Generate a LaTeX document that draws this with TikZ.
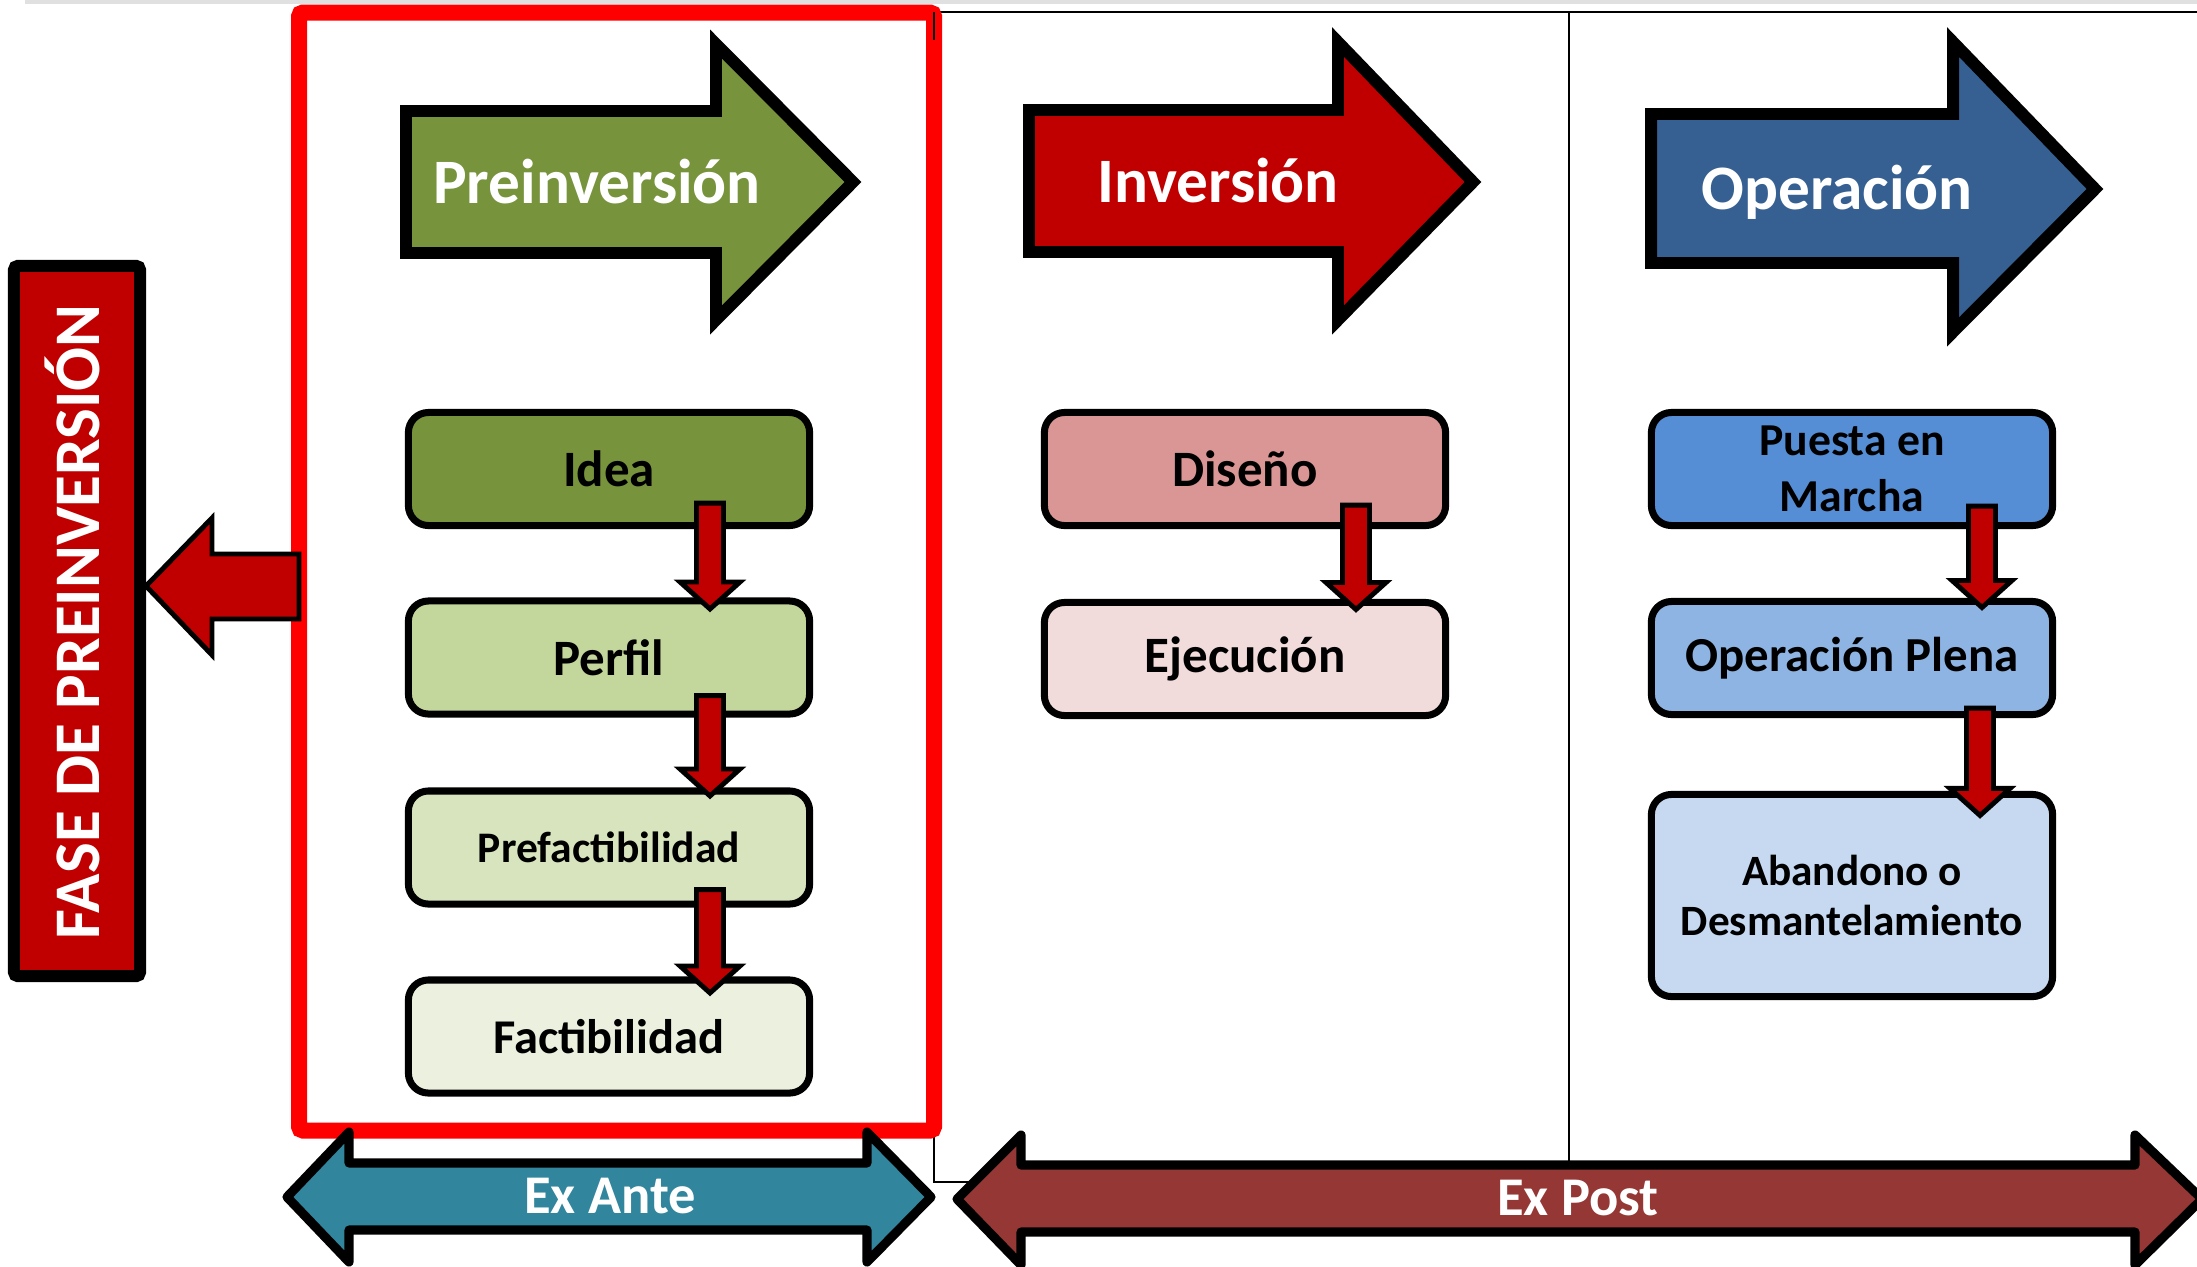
\documentclass[tikz,border=0pt]{standalone}
\usepackage{fontspec}
\setmainfont{Carlito}
\usetikzlibrary{calc}

\definecolor{preG}{HTML}{77933C}
\definecolor{invR}{HTML}{C00000}
\definecolor{opB}{HTML}{376092}
\definecolor{perfilC}{HTML}{C3D69B}
\definecolor{prefC}{HTML}{D7E4BD}
\definecolor{factC}{HTML}{EBF1DE}
\definecolor{disC}{HTML}{D99694}
\definecolor{ejeC}{HTML}{F2DCDB}
\definecolor{puesC}{HTML}{558ED5}
\definecolor{oplC}{HTML}{8EB4E3}
\definecolor{abaC}{HTML}{C6D9F1}
\definecolor{anteC}{HTML}{31859C}
\definecolor{postC}{HTML}{953735}
\definecolor{frameR}{HTML}{FF0000}

\tikzset{
  phasebox/.style={draw=black, line width=2pt, rounded corners=0.2cm,
    minimum width=4.01cm, align=center, text=black,
    font=\bfseries\fontsize{14.5}{17}\selectfont},
  bigarrow/.style={draw=black, line width=3.4pt, miter limit=10},
  bigtext/.style={text=white, anchor=base, inner sep=0pt,
    font=\bfseries\fontsize{18}{21}\selectfont},
  stepdown/.style={draw=black, fill=invR, line width=1.4pt},
  spanarrow/.style={draw=black, line width=2.6pt, line join=round},
  spantext/.style={text=white, anchor=base, inner sep=0pt,
    font=\bfseries\fontsize{15.5}{18}\selectfont},
  thinline/.style={draw=black, line width=0.45pt}
}

% block arrow pointing down from one box into the next
% #1 source, #2 target, #3 x offset, #4 start above source, #5 tip below target
\newcommand\flowdown[5]{%
  \path ($(#1.south)+(#3,-#4)$) coordinate (s)
        ($(#2.north)+(#3,#5)$) coordinate (t);
  \draw[stepdown] ($(s)+(-13.5,0)$) -- ($(s)+(13.5,0)$)
    -- ($(t)+(13.5,-27)$) -- ($(t)+(30,-27)$) -- (t)
    -- ($(t)+(-30,-27)$) -- ($(t)+(-13.5,-27)$) -- cycle;}

\begin{document}
\begin{tikzpicture}[x=0.01cm,y=-0.01cm]
\useasboundingbox (0,0) rectangle (2197,1266);
\clip (0,0) rectangle (2197,1266);

% page edge at the top
\fill[black!12] (25,0) rectangle (2197,4);

% thin frame of the ex-post area and its divider
\draw[thinline] (2210,12) -- (934,12) -- (934,1182) -- (1000,1182);
\draw[thinline] (1569,12) -- (1569,1170);

% phase arrows
\draw[bigarrow, fill=preG] (406,111) -- (716,111) -- (716,44) -- (853,182)
  -- (716,320) -- (716,253) -- (406,253) -- cycle;
\node[bigtext] (tPre) at (597,203) {Preinversión};

\draw[bigarrow, fill=invR] (1029,110) -- (1338,110) -- (1338,42) -- (1473,182)
  -- (1338,320) -- (1338,252) -- (1029,252) -- cycle;
\node[bigtext] (tInv) at (1218,202) {Inversión};

\draw[bigarrow, fill=opB] (1651,114) -- (1953,114) -- (1953,42) -- (2095,189)
  -- (1953,332) -- (1953,263) -- (1651,263) -- cycle;
\node[bigtext] (tOpe) at (1837,209) {Operación};

% stage boxes
\node[phasebox, fill=preG, minimum height=1.13cm] (idea) at (609,469) {Idea};
\node[phasebox, fill=perfilC, minimum height=1.13cm] (perfil) at (609,657.5) {Perfil};
\node[phasebox, fill=prefC, minimum height=1.13cm,
  font=\bfseries\fontsize{12.4}{15}\selectfont] (pref) at (609,847.5) {Prefactibilidad};
\node[phasebox, fill=factC, minimum height=1.13cm,
  font=\bfseries\fontsize{13.8}{16}\selectfont] (fact) at (609,1036.5) {Factibilidad};

\node[phasebox, fill=disC, minimum height=1.13cm] (dis) at (1245,469) {Diseño};
\node[phasebox, fill=ejeC, minimum height=1.13cm,
  font=\bfseries\fontsize{14.5}{17}\selectfont] (eje) at (1245,659) {Ejecución};

\node[phasebox, fill=puesC, minimum height=1.13cm,
  font=\bfseries\fontsize{13}{16}\selectfont] (pues) at (1852,469) {Puesta en\\Marcha};
\node[phasebox, fill=oplC, minimum height=1.13cm,
  font=\bfseries\fontsize{13.9}{16}\selectfont] (opl) at (1852,658) {Operación Plena};
\node[phasebox, fill=abaC, minimum height=2.02cm,
  font=\bfseries\fontsize{12.3}{14.3}\selectfont] (aba) at (1852,895.5) {Abandono o\\Desmantelamiento};

% sequence arrows
\flowdown{idea}{perfil}{101}{26}{11.5}
\flowdown{perfil}{pref}{101}{22}{8.5}
\flowdown{pref}{fact}{101}{18}{16.5}
\flowdown{dis}{eje}{111}{24}{10.5}
\flowdown{pues}{opl}{130}{23}{9.5}
\flowdown{opl}{aba}{128}{10}{24.5}

% frame round the pre-investment stage
\draw[frameR, line width=4.55pt, rounded corners=0.04cm] (299,12.5) rectangle (934,1130.5);
\draw[thinline] (934,12) -- (934,40);

% side label
\node[draw=black, fill=invR, line width=3.4pt, rounded corners=0.04cm,
  minimum width=1.26cm, minimum height=7.10cm] (fase) at (77,621) {};
\node[rotate=90, anchor=base, text=white, inner sep=0pt,
  font=\bfseries\fontsize{18.5}{21}\selectfont] (tFase) at (99,622) {FASE DE PREINVERSIÓN};

% arrow from the frame towards the side label
\draw[draw=black, fill=invR, line width=1.4pt] (fase.east |- 0,586) -- (212,518)
  -- (212,554) -- (299,554) -- (299,619) -- (212,619) -- (212,655) -- cycle;

% ex-ante / ex-post spans
\draw[spanarrow, fill=anteC] (287,1197) -- (349,1132) -- (349,1163) -- (867,1163)
  -- (867,1132) -- (931,1197) -- (867,1262) -- (867,1230) -- (349,1230)
  -- (349,1262) -- cycle;
\node[spantext] (tAnte) at (610,1213) {Ex Ante};

\draw[spanarrow, fill=postC] (957,1199) -- (1021,1135) -- (1021,1165) -- (2135,1165)
  -- (2135,1135) -- (2202,1199) -- (2135,1265) -- (2135,1232) -- (1021,1232)
  -- (1021,1265) -- cycle;
\node[spantext] (tPost) at (1578,1215) {Ex Post};
\end{tikzpicture}
\end{document}
